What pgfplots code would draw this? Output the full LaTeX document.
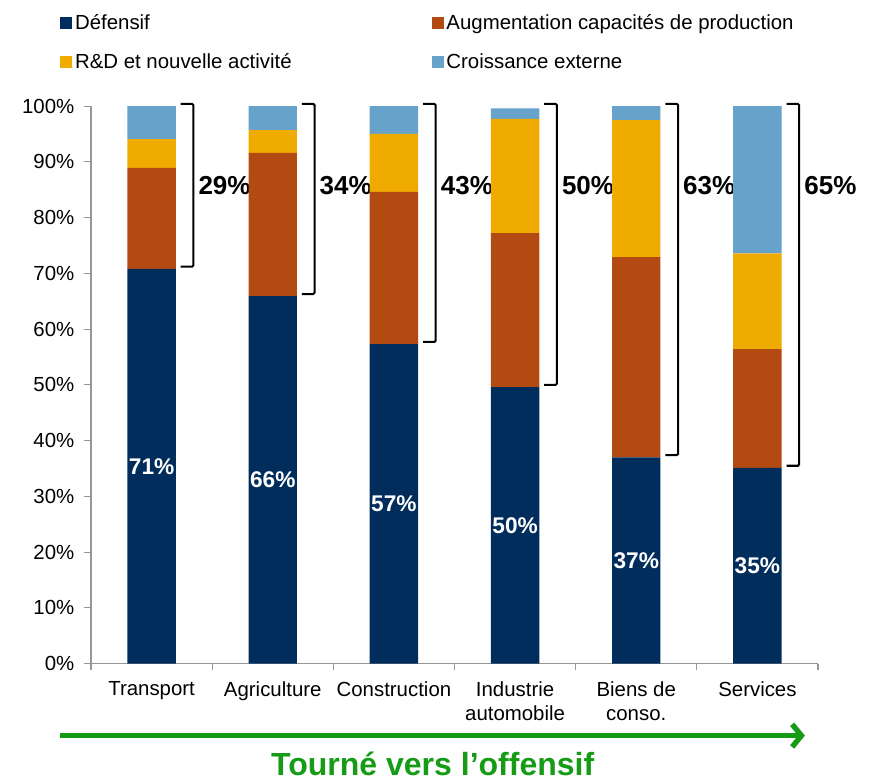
\documentclass[border=0pt]{standalone}
\usepackage{pgfplots}
\pgfplotsset{compat=1.18}
\usepackage{pgfplotstable}
\usepackage{fontspec}
\setmainfont{Liberation Sans}
\usetikzlibrary{arrows.meta}
\definecolor{defbleu}{RGB}{0,45,92}
\definecolor{augbrun}{RGB}{178,74,18}
\definecolor{rdjaune}{RGB}{240,171,0}
\definecolor{extbleu}{RGB}{102,162,202}
\definecolor{offvert}{RGB}{22,155,22}
\definecolor{axegris}{RGB}{150,150,150}

% parts en % par secteur
\pgfplotstableread{
x def aug rd ext
0 70.8 18.1 5.2 5.9
1 65.9 25.7 4.1 4.3
2 57.3 27.3 10.4 5.0
3 49.6 27.6 20.5 1.9
4 37.0 35.9 24.6 2.5
5 35.1 21.3 17.2 26.4
}\parts

% accolade a droite d'une barre : #1 position, #2 haut du defensif,
% #3 part offensive ; retient aussi le milieu du defensif (mil#1)
\newcommand{\accolade}[3]{%
    \draw[black, line width=1.5pt, rounded corners=1pt]
        (axis cs:#1+0.24,100.4) -- (axis cs:#1+0.345,100.4)
        -- (axis cs:#1+0.345,#2+0.4) -- (axis cs:#1+0.24,#2+0.4);
    \node[anchor=west, inner sep=0pt, font=\bfseries\fontsize{19.5}{22}\selectfont]
        at (axis cs:#1+0.385,85.8) {#3\%};
    \coordinate (mil#1) at (axis cs:#1,#2*0.5);
}

\begin{document}
\begin{tikzpicture}[font=\fontsize{15.3}{18}\selectfont]
\begin{axis}[
    scale only axis, width=545pt, height=418pt,
    ybar stacked, bar width=0.4,
    xmin=-0.5, xmax=5.5, ymin=0, ymax=100,
    axis lines*=left,
    axis line style={axegris, line width=0.8pt},
    tick style={axegris, line width=0.8pt},
    tick align=outside, major tick length=5pt,
    xtick={-0.5,0.5,...,5.5},
    x tick label as interval,
    xticklabels={Transport,Agriculture,Construction,{Industrie\\automobile},{Biens de\\conso.},Services},
    xticklabel style={align=center, yshift=-5pt},
    ytick={0,10,...,100},
    yticklabel={\pgfmathprintnumber[assume math mode=true]{\tick}\%},
    yticklabel style={xshift=-4pt},
    ticklabel style={font=\fontsize{15.3}{18}\selectfont},
    clip=false,
    carre/.style={legend image code/.code={\fill[##1] (0pt,-4.5pt) rectangle (9pt,4.5pt);}},
    legend columns=2,
    legend cell align=left,
    legend style={at={(axis description cs:-0.048,1.174)}, anchor=north west,
        draw=none, fill=none, row sep=12.5pt,
        font=\fontsize{15.3}{18}\selectfont,
        /tikz/every even column/.append style={column sep=103pt}},
]
\addplot[fill=defbleu, draw=none, carre] table[x=x, y=def] {\parts};
\addlegendentry{Défensif}
\addplot[fill=augbrun, draw=none, carre] table[x=x, y=aug] {\parts};
\addlegendentry{Augmentation capacités de production}
\addplot[fill=rdjaune, draw=none, carre] table[x=x, y=rd] {\parts};
\addlegendentry{R\&D et nouvelle activité}
\addplot[fill=extbleu, draw=none, carre] table[x=x, y=ext] {\parts};
\addlegendentry{Croissance externe}

% accolades : part non defensive
\accolade{0}{70.8}{29}
\accolade{1}{65.9}{34}
\accolade{2}{57.3}{43}
\accolade{3}{49.6}{50}
\accolade{4}{37.0}{63}
\accolade{5}{35.1}{65}

% fleche du bas
\draw[offvert, line width=4pt, -{Straight Barb[length=7pt, width=17pt]}]
    (axis description cs:-0.043,-0.129) -- (axis description cs:0.982,-0.129);
\node[offvert, font=\bfseries\fontsize{24}{28}\selectfont]
    at (axis description cs:0.47,-0.18) {Tourné vers l’offensif};

\path (axis description cs:-0.1252,-0.2047) rectangle (axis description cs:1.0729,1.1903);
\end{axis}

% part defensive, au milieu de chaque barre
\begin{scope}[every node/.style={text=white, inner sep=0pt,
        font=\bfseries\fontsize{17}{20}\selectfont}]
\node at (mil0) {71\%};
\node at (mil1) {66\%};
\node at (mil2) {57\%};
\node at (mil3) {50\%};
\node at (mil4) {37\%};
\node at (mil5) {35\%};
\end{scope}
\end{tikzpicture}
\end{document}
